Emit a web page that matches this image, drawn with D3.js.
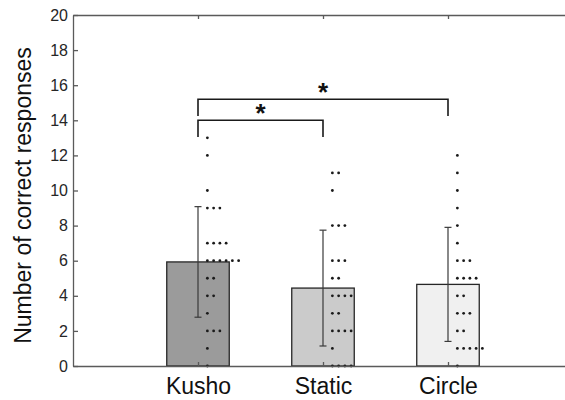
<!DOCTYPE html>
<html>
<head>
<meta charset="utf-8">
<script src="https://cdn.jsdelivr.net/npm/d3@7"></script>
<style>
  body { margin: 0; background: #fff; }
  svg { display: block; font-family: "Liberation Sans", Arial, sans-serif; }
</style>
</head>
<body>
<div id="chart"></div>
<script>
// conditions and summary values
var conditions = ["Kusho", "Static", "Circle"];
var means = [5.93, 4.44, 4.65];
var sds = [3.15, 3.30, 3.25];
var barColors = ["#9b9b9b", "#cbcbcb", "#f0f0f0"];

// individual responses (one dot per participant)
var kushoScores = [13, 12, 10, 9, 9, 9, 7, 7, 7, 7, 6, 6, 6, 6, 6, 6, 5, 5, 4, 4, 3, 2, 2, 2, 1, 0];
var staticScores = [11, 11, 10, 8, 8, 8, 6, 6, 6, 5, 5, 4, 4, 4, 4, 3, 3, 2, 2, 2, 2, 1, 0, 0, 0, 0];
var circleScores = [12, 11, 10, 9, 8, 7, 6, 6, 6, 5, 5, 5, 5, 4, 4, 3, 3, 3, 2, 2, 1, 1, 1, 1, 1, 0];
var scores = [kushoScores, staticScores, circleScores];

var yTicks = [0, 2, 4, 6, 8, 10, 12, 14, 16, 18, 20];

// significance brackets: pair of conditions and bracket height (in response units)
var comparisons = [
    { from: 0, to: 1, level: 14.0, label: "*" },
    { from: 0, to: 2, level: 15.2, label: "*" }
];

var width = 565, height = 400;
var margin = { top: 15, left: 73 };
var plotH = 351;

var svg = d3.select("#chart").append("svg")
    .attr("width", width)
    .attr("height", height);

var x = d3.scaleLinear().domain([0, 4]).range([margin.left, margin.left + 500]);
var y = d3.scaleLinear().domain([0, 20]).range([margin.top + plotH, margin.top]);

var axisColor = "#5a5a5a";
var textColor = "#262626";

// bars
svg.selectAll("rect.bar")
    .data(means).enter()
    .append("rect")
        .attr("class", "bar")
        .attr("x", function(d, i) { return x(i + 1 - 0.25); })
        .attr("y", function(d) { return y(d); })
        .attr("width", x(0.5) - x(0))
        .attr("height", function(d) { return y(0) - y(d); })
        .attr("fill", function(d, i) { return barColors[i]; })
        .attr("stroke", "#262626")
        .attr("stroke-width", 1.3);

// error bars
var eb = svg.selectAll("g.err")
    .data(means).enter()
    .append("g").attr("class", "err")
    .attr("stroke", "#3a3a3a")
    .attr("stroke-width", 1.2);
eb.append("line")
    .attr("x1", function(d, i) { return x(i + 1); })
    .attr("x2", function(d, i) { return x(i + 1); })
    .attr("y1", function(d, i) { return y(d + sds[i]); })
    .attr("y2", function(d, i) { return y(d - sds[i]); });
[1, -1].forEach(function(sgn) {
    eb.append("line")
        .attr("x1", function(d, i) { return x(i + 1) - 3.5; })
        .attr("x2", function(d, i) { return x(i + 1) + 3.5; })
        .attr("y1", function(d, i) { return y(d + sgn * sds[i]); })
        .attr("y2", function(d, i) { return y(d + sgn * sds[i]); });
});

// dots: stacked to the right of each condition, one row per score value
var dots = [];
scores.forEach(function(list, ci) {
    var counts = {};
    list.forEach(function(v) {
        var k = counts[v] || 0;
        dots.push({ cond: ci, value: v, k: k });
        counts[v] = k + 1;
    });
});
svg.selectAll("circle.dot")
    .data(dots).enter()
    .append("circle")
        .attr("class", "dot")
        .attr("cx", function(d) { return x(d.cond + 1 + 0.075 + d.k * 0.05); })
        .attr("cy", function(d) { return y(d.value); })
        .attr("r", 1.4)
        .attr("fill", "#1a1a1a");

// axes (box style, ticks inside)
var yAxis = svg.append("g")
    .attr("transform", "translate(" + margin.left + ",0)")
    .call(d3.axisLeft(y).tickValues(yTicks).tickSizeInner(-5).tickSizeOuter(0).tickPadding(5));
yAxis.selectAll("text").attr("font-size", "16px").attr("fill", textColor);

var xAxis = svg.append("g")
    .attr("transform", "translate(0," + y(0) + ")")
    .call(d3.axisBottom(x).tickValues([1, 2, 3]).tickSizeInner(-4).tickSizeOuter(0).tickPadding(12)
        .tickFormat(function(d) { return conditions[d - 1]; }));
xAxis.selectAll("text").attr("font-size", "23px").attr("fill", "#111");

var topAxis = svg.append("g")
    .attr("transform", "translate(0," + y(20) + ")")
    .call(d3.axisTop(x).tickValues([1, 2, 3]).tickSizeInner(-4).tickSizeOuter(0).tickFormat(""));

svg.selectAll(".domain, .tick line")
    .attr("stroke", axisColor)
    .attr("stroke-width", 1.3);

// significance brackets
var br = svg.selectAll("g.sig")
    .data(comparisons).enter()
    .append("g").attr("class", "sig");
br.append("path")
    .attr("d", function(d) {
        var x1 = x(d.from + 1), x2 = x(d.to + 1), yt = y(d.level), yb = y(d.level - 0.95);
        return "M" + x1 + "," + yb + "V" + yt + "H" + x2 + "V" + yb;
    })
    .attr("fill", "none")
    .attr("stroke", "#1a1a1a")
    .attr("stroke-width", 1.6);
br.append("text")
    .attr("x", function(d) { return (x(d.from + 1) + x(d.to + 1)) / 2; })
    .attr("y", function(d) { return y(d.level) + 2; })
    .attr("text-anchor", "middle")
    .attr("font-size", "26px")
    .attr("font-weight", "bold")
    .attr("fill", "#111")
    .text(function(d) { return d.label; });

// y label
svg.append("text")
    .attr("transform", "translate(31," + (y(10) + 5) + ") rotate(-90)")
    .attr("text-anchor", "middle")
    .attr("font-size", "23px")
    .attr("fill", "#111")
    .text("Number of correct responses");
</script>
</body>
</html>
